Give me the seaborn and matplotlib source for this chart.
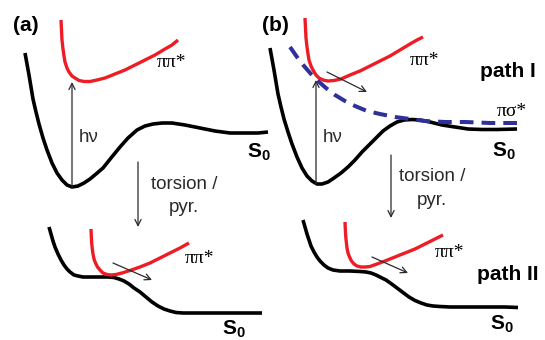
import numpy as np
import pandas as pd
import matplotlib
matplotlib.use("Agg")
import matplotlib.pyplot as plt
import seaborn as sns

sns.set_theme(style="white")
plt.rcParams["font.family"] = ["Liberation Sans", "DejaVu Sans"]
plt.rcParams["mathtext.fontset"] = "custom"
plt.rcParams["mathtext.rm"] = "Liberation Sans"
plt.rcParams["mathtext.bf"] = "Liberation Sans:bold"

# ---- potential energy curves (schematic, canvas units: x right, y down) ----
# panel (a), upper: ground state S0 and bright pi-pi* state
s0_a_x = [25, 27, 29, 31, 33, 36, 39, 43, 47, 52, 57, 62, 67, 72, 78, 84, 90, 96, 103, 111,
          120, 128, 137, 145, 153, 162, 172, 185, 200, 215, 230, 245, 258, 268]
s0_a_y = [53, 64, 75, 87, 99, 112, 124, 138, 150, 163, 173, 180, 185, 187, 186, 183, 179,
          174, 168, 158, 147, 138, 130, 126, 124, 123, 123, 125, 128, 131, 133, 133, 133, 132]
pp_a_x = [61, 61.5, 62, 63, 64, 65, 67, 69, 72, 75, 79, 84, 90, 97, 105, 115, 125, 135, 145,
          155, 165, 172, 178]
pp_a_y = [20, 30, 40, 49, 56, 62, 68, 72, 76, 78, 80.5, 81.5, 81.5, 80, 78, 74, 70, 65, 60,
          55, 49, 45, 40]

# panel (a), lower: after torsion / pyramidalisation
s0_a2_x = [49, 51, 53, 55, 58, 61, 64, 67, 70, 74, 78, 83, 90, 100, 108, 114, 119, 124, 129,
           134, 140, 146, 152, 158, 164, 170, 176, 183, 195, 215, 240, 262]
s0_a2_y = [227, 234, 241, 247, 254, 260, 265, 269, 272, 275, 276, 277, 277, 277, 277, 277.5,
           279, 281, 284, 288, 292, 297, 302, 306, 309, 311, 312.5, 313, 313, 313, 313, 313]
pp_a2_x = [91, 91.3, 91.7, 92.3, 93, 94, 95.5, 97.5, 100, 103, 107, 111, 116, 122, 130, 140,
           150, 160, 170, 180, 189]
pp_a2_y = [229, 236, 243, 249, 254, 259, 263, 267, 270, 273, 274.5, 275, 274.5, 273, 270.5,
           267, 263, 258, 253, 248, 243]

# panel (b), upper: S0, pi-pi* and dissociative pi-sigma*
s0_b_x = [270, 272, 274, 276, 278, 281, 284, 288, 292, 297, 302, 307, 312, 317, 322, 328,
          334, 341, 348, 355, 362, 369, 376, 383, 390, 397, 404, 412, 420, 430, 442, 455,
          468, 482, 497, 517]
s0_b_y = [48, 59, 70, 82, 94, 107, 119, 132, 144, 157, 168, 176, 181, 184, 184, 182, 178,
          173, 167, 160, 152, 145, 138, 131, 126, 122, 120, 119.5, 120, 122, 125, 127, 129,
          129.5, 129.5, 129]
pp_b_x = [305, 305.5, 306, 307, 308, 309, 311, 313, 316, 319, 323, 328, 334, 341, 350, 360,
          370, 380, 390, 400, 410, 417, 423]
pp_b_y = [18, 28, 38, 47, 54, 60, 66, 70, 75, 78, 80, 81, 80.5, 79, 75, 71, 66, 61, 56, 50,
          44, 40, 37]
ps_b_x = [290, 297, 304, 311, 318, 326, 335, 345, 355, 367, 380, 395, 410, 425, 445, 465,
          490, 522]
ps_b_y = [47, 57, 66, 74, 81, 88, 95, 101, 106, 111, 114, 117, 119, 121, 122, 122, 123, 123]

# panel (b), lower
s0_b2_x = [303, 305, 307, 309, 311, 314, 317, 320, 324, 328, 333, 340, 350, 360, 366, 371,
           376, 381, 386, 391, 397, 403, 409, 415, 421, 427, 433, 440, 450, 465, 485, 505, 518]
s0_b2_y = [220, 227, 234, 240, 246, 252, 257, 261, 265, 268, 270, 271, 271, 271.5, 272, 273,
           275, 277.5, 280, 283.5, 288, 292.5, 297, 300.5, 303, 305, 306, 306.5, 307, 307,
           307, 307, 307.5]
pp_b2_x = [345, 345.3, 345.7, 346.3, 347, 348, 349.5, 351.5, 354, 357, 361, 365, 370, 377,
           385, 395, 405, 415, 425, 435, 443]
pp_b2_y = [222, 229, 236, 242, 248, 253, 257, 261, 264, 266, 267, 267, 266.5, 264, 261, 257,
           253, 249, 244, 239, 235]

# arrows: (x_start, y_start, x_end, y_end)
arrows = [
    (72, 187, 72, 82),      # excitation (a)
    (138, 162, 138, 227),   # torsion (a)
    (113, 263, 152, 280),   # relaxation (a, lower)
    (316, 184, 316, 80),    # excitation (b)
    (327, 72, 367, 92),     # towards pi-sigma* (b)
    (391, 155, 391, 218),   # torsion (b)
    (372, 257, 408, 273),   # relaxation (b, lower)
]

BLACK = "#000000"
RED = "#ee1c24"
BLUE = "#30309a"
GREY = "#2a2a2a"

fig = plt.figure(figsize=(5.45, 3.40), dpi=100)
ax = fig.add_axes([0, 0, 1, 1])
ax.set_xlim(0, 545)
ax.set_ylim(340, 0)
ax.axis("off")

for xs, ys in [(s0_a_x, s0_a_y), (s0_a2_x, s0_a2_y), (s0_b_x, s0_b_y), (s0_b2_x, s0_b2_y)]:
    sns.lineplot(x=xs, y=ys, sort=False, estimator=None, color=BLACK, lw=2.6, ax=ax,
                 solid_capstyle="butt", solid_joinstyle="round")
for xs, ys in [(pp_a_x, pp_a_y), (pp_a2_x, pp_a2_y), (pp_b_x, pp_b_y), (pp_b2_x, pp_b2_y)]:
    sns.lineplot(x=xs, y=ys, sort=False, estimator=None, color=RED, lw=2.4, ax=ax,
                 solid_capstyle="butt", solid_joinstyle="round")
sns.lineplot(x=ps_b_x, y=ps_b_y, sort=False, estimator=None, color=BLUE, lw=2.9, ax=ax,
             dashes=False)
ax.lines[-1].set_dashes((3.4, 2.0))

for x0, y0, x1, y1 in arrows:
    ax.annotate("", xy=(x1, y1), xytext=(x0, y0),
                arrowprops=dict(arrowstyle="->", lw=0.9, color=GREY, shrinkA=0, shrinkB=0,
                                mutation_scale=11))

serif = ["Liberation Serif", "DejaVu Serif"]
bold = dict(fontsize=15, fontweight="bold", color=BLACK)
reg = dict(fontsize=13.5, color=GREY)

# panel labels
ax.text(13, 31, "(a)", ha="left", va="baseline", **bold)
ax.text(262, 31, "(b)", ha="left", va="baseline", **bold)
ax.text(480, 77, "path I", ha="left", va="baseline", **bold)
ax.text(477, 280, "path II", ha="left", va="baseline", **bold)

# state labels
for x, y in [(157, 67), (410, 65), (185, 263), (435, 257)]:
    ax.text(x, y, "ππ*", ha="left", va="baseline", family=serif, fontsize=14, color=BLACK)
ax.text(497, 116, "πσ*", ha="left", va="baseline", family=serif, fontsize=14, color=BLACK)
for x, y in [(247, 158), (492, 157), (222, 335), (490, 330)]:
    ax.text(x, y, r"$\mathbf{S_0}$", ha="left", va="baseline", fontsize=15, color=BLACK)

# excitation and coordinate labels
ax.text(79, 142, "hν", ha="left", va="baseline", **reg)
ax.text(323, 142, "hν", ha="left", va="baseline", **reg)
ax.text(184, 189, "torsion /", ha="center", va="baseline", **reg)
ax.text(184, 212, "pyr.", ha="center", va="baseline", **reg)
ax.text(432, 181, "torsion /", ha="center", va="baseline", **reg)
ax.text(432, 205, "pyr.", ha="center", va="baseline", **reg)

fig.savefig("out.png", dpi=100)
